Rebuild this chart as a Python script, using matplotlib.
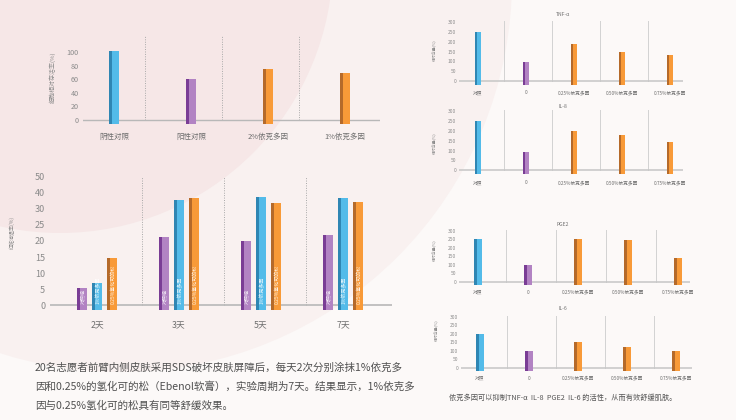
import matplotlib
matplotlib.use('Agg')
import matplotlib.pyplot as plt
from matplotlib.patches import Circle, Rectangle
import numpy as np

plt.rcParams['font.family'] = ['Noto Sans CJK SC', 'DejaVu Sans']

# ---- data ----
cell_cats = ['阴性对照', '阳性对照', '2%依克多因', '1%依克多因']
cell_vals = [101, 60, 75, 69]

days = ['2天', '3天', '5天', '7天']
ery_names = ['对照组', '1%依克多因', '0.25%氢化可的松']
ery_ctrl = [5.3, 21.1, 20.1, 21.9]
ery_ect = [6.8, 32.7, 33.6, 33.3]
ery_hc = [14.8, 33.3, 31.9, 32.0]
ery_ticks = [0, 5, 10, 15, 20, 25, 30, 35, 40]
ery_ticklabels = ['0', '5', '10', '15', '20', '25', '30', '40', '50']

cyto_cats = ['对照', '0', '0.25%依克多因', '0.50%依克多因', '0.75%依克多因']
tnf = [250, 95, 188, 146, 134]
il8 = [250, 94, 199, 178, 145]
pge2 = [252, 98, 252, 243, 137]
il6 = [196, 98, 149, 120, 98]

text_main = ['20名志愿者前臂内侧皮肤采用SDS破坏皮肤屏障后，每天2次分别涂抹1%依克多',
             '因和0.25%的氢化可的松（Ebenol软膏），实验周期为7天。结果显示，1%依克多',
             '因与0.25%氢化可的松具有同等舒缓效果。']
text_right = '依克多因可以抑制TNF-α  IL-8  PGE2  IL-6 的活性，从而有效舒缓肌肤。'

# colours (face, dark side)
BLUE = ('#53bbe9', '#2f86b3')
PURPLE = ('#b283c3', '#7a3d95')
ORANGE = ('#f89a38', '#b56a2a')
TICK = '#8a8a8a'
LAB = '#6e6e6e'

W, H = 736, 420
fig = plt.figure(figsize=(W / 100, H / 100), dpi=100)

# background
bg = fig.add_axes([0, 0, 1, 1], zorder=-5)
bg.set_xlim(0, W)
bg.set_ylim(H, 0)
bg.axis('off')
bg.add_patch(Rectangle((0, 0), W, H, color='#fcf9f8', lw=0))
bg.add_patch(Circle((120, -20), 392, color='#f9f1f0', lw=0))
bg.add_patch(Circle((60, -40), 273, color='#f6e7e7', lw=0))


def ftext(x, y, s, **kw):
    fig.text(x / W, 1 - y / H, s, **kw)


def panel(xl, xr, c0, sp, y0, ytop, vtop, ylo, yhi):
    # place an axes so that data values land on given pixel positions
    s = (y0 - ytop) / vtop
    top_px = y0 - yhi * s
    bot_px = y0 - ylo * s
    ax = fig.add_axes([xl / W, 1 - bot_px / H, (xr - xl) / W, (bot_px - top_px) / H])
    ax.set_xlim((xl - c0) / sp, (xr - c0) / sp)
    ax.set_ylim(ylo, yhi)
    ax.patch.set_alpha(0)
    for spn in ax.spines.values():
        spn.set_visible(False)
    ax.set_xticks([])
    return ax, s, y0


def bars3d(ax, xs, hs, w, cols, bottom):
    xs = np.asarray(xs, float)
    hs = np.asarray(hs, float)
    side = w * 0.32
    faces = [c[0] for c in cols]
    darks = [c[1] for c in cols]
    ax.bar(xs - w / 2, hs - bottom, width=side, bottom=bottom, align='edge',
           color=darks, lw=0, zorder=3)
    ax.bar(xs - w / 2 + side, hs - bottom, width=w - side, bottom=bottom, align='edge',
           color=faces, lw=0, zorder=3)


def cat_labels(ax, s, y0, labels, ypx, size):
    for i, lab in enumerate(labels):
        ax.text(i, (y0 - ypx) / s, lab, ha='center', va='center', fontsize=size,
                color=LAB, clip_on=False)


# ---- chart 1: cell viability ----
ax1, s1, y01 = panel(83, 380, 114, 77, 120, 52, 100, -9, 124)
ax1.axhline(0, color='#b8b8b8', lw=1, zorder=2)
for d in np.arange(len(cell_cats) - 1) + 0.4:
    ax1.plot([d, d], [0, 124], color='#a8a8a8', lw=0.7, ls=(0, (1, 1.5)), zorder=1)
bars3d(ax1, np.arange(len(cell_cats)), cell_vals, 0.12,
       [BLUE, PURPLE, ORANGE, ORANGE], -6)
ax1.set_yticks(range(0, 101, 20))
ax1.tick_params(axis='y', length=0, pad=3, labelsize=5.2, labelcolor=TICK)
cat_labels(ax1, s1, y01, cell_cats, 137, 5.4)
ftext(53, 77, '细胞相对存活率(%)', rotation=90, ha='center', va='center',
      fontsize=4.3, color=TICK)

# ---- chart 2: erythema ----
ax2, s2, y02 = panel(50, 392, 97, 82, 305.3, 176.7, 40, -2, 40.3)
ax2.axhline(0, color='#b8b8b8', lw=1.2, zorder=2)
for d in np.arange(len(days) - 1) + 0.55:
    ax2.plot([d, d], [0, 40], color='#a8a8a8', lw=0.7, ls=(0, (1, 1.5)), zorder=1)
x2 = np.arange(len(days))
off, w2 = 0.183, 0.122
for k, (vals, col) in enumerate([(ery_ctrl, PURPLE), (ery_ect, BLUE), (ery_hc, ORANGE)]):
    xs = x2 + (k - 1) * off
    bars3d(ax2, xs, vals, w2, [col] * len(days), -1.5)
    for xx in xs:
        ax2.text(xx + w2 * 0.12, 0.4, ery_names[k], rotation=90, ha='center', va='bottom',
                 fontsize=3.6, color='white', alpha=0.85, zorder=4)
ax2.set_yticks(ery_ticks)
ax2.set_yticklabels(ery_ticklabels)
ax2.tick_params(axis='y', length=0, pad=3.5, labelsize=6.5, labelcolor=TICK)
cat_labels(ax2, s2, y02, days, 325, 6.3)
ftext(12, 232, '红斑消退率(%)', rotation=90, ha='center', va='center',
      fontsize=3.6, color=TICK)

# ---- right: cytokines ----
right = [
    ('TNF-α', tnf, (459, 683, 478, 48, 81, 22), 14, 93, 50),
    ('IL-8', il8, (459, 683, 478, 48, 170.3, 111), 106, 183, 143),
    ('PGE2', pge2, (459, 690, 478, 50, 281.7, 230.7), 224, 292, 250),
    ('IL-6', il6, (461, 692, 480, 49, 367.7, 316.7), 309, 378, 330),
]
for title, vals, (xl, xr, c0, sp, y0, ytop), ty, ly, yly in right:
    ax, s, y0 = panel(xl, xr, c0, sp, y0, ytop, 300, -25, 305)
    ax.axhline(0, color='#c6c6c6', lw=1.1, zorder=2)
    for d in np.arange(len(cyto_cats) - 1) + 0.55:
        ax.plot([d, d], [0, 305], color='#d2d2d2', lw=0.7, zorder=1)
    bars3d(ax, np.arange(len(cyto_cats)), vals, 0.145,
           [BLUE, PURPLE, ORANGE, ORANGE, ORANGE], -20)
    ax.set_yticks(range(0, 301, 50))
    ax.tick_params(axis='y', length=0, pad=2, labelsize=3.5, labelcolor=TICK)
    cat_labels(ax, s, y0, cyto_cats, ly, 3.4)
    ftext(563, ty, title, ha='center', va='center', fontsize=3.6, color='#707070')
    ftext(xl - 24, yly, '相对含量(%)', rotation=90, ha='center', va='center',
          fontsize=2.8, color=TICK)

# ---- texts ----
for i, line in enumerate(text_main):
    ftext(35, 368 + 19 * i, line, ha='left', va='center', fontsize=7.6, color='#505050')
ftext(449, 398, text_right, ha='left', va='center', fontsize=5.2, color='#555555')

fig.savefig('out.png', dpi=100)
